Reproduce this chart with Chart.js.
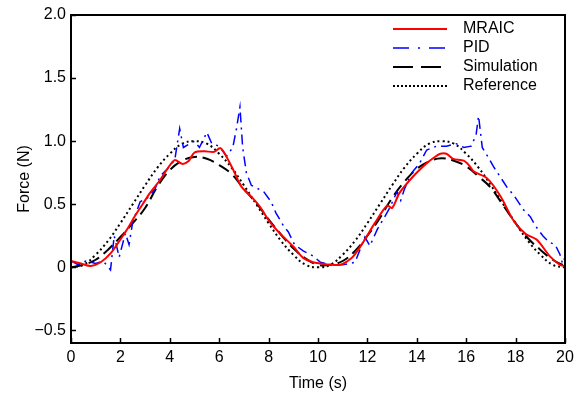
<!DOCTYPE html>
<html>
<head>
<meta charset="utf-8">
<script src="https://cdn.jsdelivr.net/npm/chart.js@4.4.1/dist/chart.umd.min.js"></script>
<style>
  html, body { margin: 0; padding: 0; background: #fff; }
  #wrap { width: 584px; height: 396px; }
</style>
</head>
<body>
<div id="wrap"><canvas id="myChart" width="584" height="396"></canvas></div>
<script>
// values
const refTime = [0, 0.5, 1, 1.5, 2, 2.5, 3, 3.5, 4, 4.5, 5, 5.5, 6, 6.5, 7, 7.5, 8, 8.5, 9, 9.5, 10,
  10.5, 11, 11.5, 12, 12.5, 13, 13.5, 14, 14.5, 15, 15.5, 16, 16.5, 17, 17.5, 18, 18.5, 19, 19.5, 20];
const refForce = [0, 0.02, 0.10, 0.21, 0.35, 0.50, 0.65, 0.79, 0.90, 0.98, 1.00, 0.98, 0.90, 0.79, 0.65, 0.50, 0.35, 0.21, 0.10, 0.02, 0,
  0.02, 0.10, 0.21, 0.35, 0.50, 0.65, 0.79, 0.90, 0.98, 1.00, 0.98, 0.90, 0.79, 0.65, 0.50, 0.35, 0.21, 0.10, 0.02, 0];

const simTime = refTime;
const simForce = [0, 0.02, 0.06, 0.14, 0.24, 0.35, 0.47, 0.64, 0.77, 0.845, 0.875, 0.86, 0.81, 0.74, 0.62, 0.51, 0.38, 0.26, 0.15, 0.07, 0.02,
  0.02, 0.05, 0.13, 0.25, 0.39, 0.55, 0.68, 0.78, 0.84, 0.865, 0.845, 0.80, 0.72, 0.63, 0.49, 0.35, 0.23, 0.14, 0.06, 0.01];

const mraicTime = [0, 0.4, 0.8, 1.2, 1.6, 2.0, 2.3, 2.6, 2.9, 3.2, 3.6, 3.9, 4.2, 4.5, 4.75, 5.0, 5.4, 5.8, 6.05, 6.3, 6.6, 6.9,
  7.3, 7.65, 8.05, 8.45, 9.0, 9.4, 9.8, 10.1, 10.5, 10.9, 11.2, 11.4, 11.8, 12.3, 12.8, 13.0, 13.3, 13.85, 14.4, 14.7,
  14.95, 15.2, 15.47, 15.9, 16.15, 16.3, 16.85, 17.4, 17.9, 18.4, 18.85, 19.4, 19.8, 20];
const mraicForce = [0.05, 0.03, 0.01, 0.04, 0.11, 0.22, 0.31, 0.41, 0.50, 0.59, 0.69, 0.78, 0.85, 0.82, 0.84, 0.91, 0.92, 0.915, 0.945, 0.875, 0.76, 0.64,
  0.56, 0.48, 0.36, 0.27, 0.165, 0.075, 0.04, 0.03, 0.02, 0.02, 0.05, 0.08, 0.19, 0.35, 0.49, 0.47, 0.59, 0.72, 0.825, 0.87,
  0.90, 0.90, 0.86, 0.845, 0.80, 0.76, 0.705, 0.56, 0.375, 0.265, 0.22, 0.085, 0.02, 0.01];

const pidTime = [0, 0.3, 0.6, 1.0, 1.3, 1.6, 1.75, 1.95, 2.2, 2.35, 2.5, 2.8, 3.1, 3.4, 3.6, 3.9, 4.2, 4.4, 4.55, 4.8, 5.0,
  5.2, 5.5, 5.7, 6.0, 6.3, 6.55, 6.7, 6.84, 6.95, 7.1, 7.3, 7.6, 7.8, 8.1, 8.3, 8.6, 8.8, 9.05, 9.4, 9.8, 10.1, 10.5,
  11.0, 11.5, 11.7, 11.9, 12.1, 12.4, 12.7, 12.9, 13.2, 13.35, 13.5, 13.8, 14.1, 14.4, 14.8, 15.2, 15.6, 15.9, 16.2,
  16.4, 16.5, 16.65, 16.9, 17.1, 17.4, 17.7, 17.9, 18.1, 18.3, 18.6, 18.8, 19.1, 19.35, 19.6, 19.8, 19.9, 20];
const pidForce = [0.05, 0.02, 0.05, 0.03, 0.05, -0.02, 0.25, 0.08, 0.27, 0.18, 0.36, 0.52, 0.55, 0.62, 0.72, 0.78, 0.85, 1.1, 0.95, 0.98, 1.0,
  0.95, 1.07, 0.98, 0.96, 0.88, 0.95, 1.1, 1.27, 0.95, 0.75, 0.65, 0.62, 0.6, 0.52, 0.43, 0.33, 0.28, 0.18, 0.13, 0.09, 0.04, 0.02,
  0.02, 0.04, 0.14, 0.24, 0.17, 0.3, 0.4, 0.47, 0.6, 0.53, 0.62, 0.75, 0.82, 0.93, 0.96, 0.96, 0.98, 0.95, 0.96,
  1.05, 1.2, 0.95, 0.87, 0.8, 0.71, 0.62, 0.58, 0.52, 0.46, 0.4, 0.33, 0.25, 0.2, 0.18, 0.1, 0.03, 0.08];

const xTicks = [0, 2, 4, 6, 8, 10, 12, 14, 16, 18, 20];
const yTicks = [-0.5, 0, 0.5, 1.0, 1.5, 2.0];

const FONT = "Arial, 'Liberation Sans', Helvetica, sans-serif";

function pts(t, v) {
  return t.map((x, i) => ({ x: x, y: v[i] }));
}

const series = [
  { label: 'MRAIC', data: pts(mraicTime, mraicForce), color: '#ff0000', dash: [], legendDash: [], width: 2, tension: 0.3 },
  { label: 'PID', data: pts(pidTime, pidForce), color: '#0000ff', dash: [10, 5, 2, 5], legendDash: [16, 9, 2, 9], width: 1.5, tension: 0 },
  { label: 'Simulation', data: pts(simTime, simForce), color: '#000000', dash: [12, 6], legendDash: [20, 8], width: 2, tension: 0.4 },
  { label: 'Reference', data: pts(refTime, refForce), color: '#000000', dash: [2, 3], legendDash: [2, 2], width: 2, tension: 0.4 }
];

// frame, inward ticks and legend
const framePlugin = {
  id: 'frame',
  afterDraw(chart) {
    const c = chart.ctx;
    const a = chart.chartArea;
    const xs = chart.scales.x, ys = chart.scales.y;
    c.save();
    c.strokeStyle = '#000';
    c.lineWidth = 2;
    c.strokeRect(a.left, a.top, a.right - a.left, a.bottom - a.top);
    c.lineWidth = 1.5;
    c.beginPath();
    xTicks.forEach(v => {
      const px = Math.round(xs.getPixelForValue(v)) + 0.5;
      c.moveTo(px, a.bottom);
      c.lineTo(px, a.bottom - 5);
    });
    yTicks.forEach(v => {
      const py = Math.round(ys.getPixelForValue(v)) + 0.5;
      c.moveTo(a.left, py);
      c.lineTo(a.left + 5, py);
    });
    c.stroke();

    // legend
    c.font = '16px ' + FONT;
    c.textBaseline = 'middle';
    c.textAlign = 'left';
    series.forEach((s, i) => {
      const y = 29 + i * 19;
      c.strokeStyle = s.color;
      c.lineWidth = s.width;
      c.setLineDash(s.legendDash);
      c.beginPath();
      c.moveTo(393, y);
      c.lineTo(447, y);
      c.stroke();
      c.setLineDash([]);
      c.fillStyle = '#000';
      c.fillText(s.label, 463, y);
    });
    c.restore();
  }
};

const ctx = document.getElementById('myChart');
Chart.defaults.color = '#000';
Chart.defaults.font.family = FONT;
Chart.defaults.font.size = 16;

new Chart(ctx, {
  type: 'line',
  data: {
    datasets: series.map(s => ({
      label: s.label,
      data: s.data,
      borderColor: s.color,
      borderWidth: s.width,
      borderDash: s.dash,
      tension: s.tension,
      pointRadius: 0,
      fill: false
    }))
  },
  options: {
    responsive: false,
    animation: false,
    layout: { padding: { top: 15, right: 19, left: 0, bottom: 0 } },
    plugins: {
      legend: { display: false },
      tooltip: { enabled: false }
    },
    scales: {
      x: {
        type: 'linear',
        min: 0,
        max: 20,
        afterBuildTicks: (scale) => { scale.ticks = xTicks.map(v => ({ value: v })); },
        afterFit: (scale) => { scale.height = 53; },
        grid: { display: false, drawTicks: false },
        border: { display: true, color: '#000', width: 2 },
        ticks: { padding: 5, maxRotation: 0, autoSkip: false, font: { size: 16 } },
        title: { display: true, text: 'Time (s)', font: { size: 16 }, padding: { top: 0, bottom: 3 } }
      },
      y: {
        type: 'linear',
        min: -0.6,
        max: 2.0,
        afterBuildTicks: (scale) => { scale.ticks = yTicks.map(v => ({ value: v })); },
        afterFit: (scale) => { scale.width = 71; },
        grid: { display: false, drawTicks: false },
        border: { display: true, color: '#000', width: 2 },
        ticks: {
          padding: 5,
          autoSkip: false,
          font: { size: 16 },
          callback: (v) => v === 0 ? '0' : (v < 0 ? '\u2212' + Math.abs(v).toFixed(1) : v.toFixed(1))
        },
        title: { display: true, text: 'Force (N)', font: { size: 16 }, padding: { top: 15, bottom: 0 } }
      }
    }
  },
  plugins: [framePlugin]
});
</script>
</body>
</html>
